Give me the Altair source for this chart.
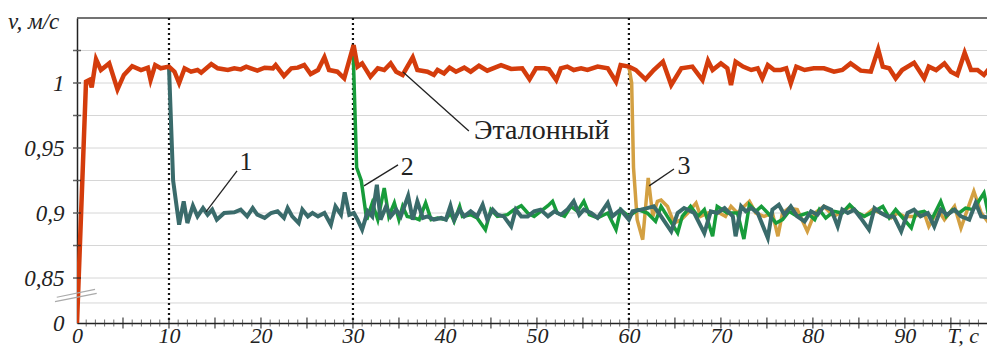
import altair as alt
import pandas as pd

FONT = "'Liberation Serif', 'Times New Roman', Times, 'DejaVu Serif', serif"
W, H = 910, 305
XMAX = 98.93
YMIN, YMAX = 0.8154, 1.05
ZERO_POS = 0.8154   # position on the broken axis where v = 0 is drawn

# ---------------- data ----------------
red_t = [0, 0.98, 1.34, 1.6, 2.07, 2.6, 3.5, 4.4, 5.1, 6.0,
         6.96, 7.7, 8.0, 8.5, 9.1, 10.0, 10.6, 11.1, 11.7, 12.4,
         13.1, 13.5, 14.6, 15.3, 16.4, 17.1, 17.8, 18.4, 18.9, 19.6,
         20.4, 21.3, 21.6, 22.5, 23.3, 24.0, 24.7, 25.4, 26.2, 26.9,
         27.4, 28.3, 29.05, 30.07, 30.5, 31.0, 31.9, 32.7, 33.4, 34.1,
         34.7, 35.4, 36.5, 37.0, 38.1, 38.8, 39.2, 39.9, 40.5, 41.2,
         42.1, 42.8, 43.7, 44.6, 46.1, 47.2, 48.4, 49.2, 49.9, 50.8,
         51.3, 52.1, 52.6, 53.3, 54.0, 54.8, 55.5, 56.6, 57.7, 58.6,
         59.1, 60.0, 60.75, 61.8, 62.7, 63.7, 64.6, 65.7, 66.9, 68.0,
         68.6, 69.1, 70.0, 70.7, 71.1, 71.6, 72.4, 73.3, 74.0, 74.5,
         75.1, 75.8, 76.5, 77.1, 77.6, 78.2, 79.1, 80.1, 81.2, 82.3,
         83.2, 84.1, 85.2, 86.3, 87.1, 87.6, 88.3, 89.0, 89.7, 91.0,
         92.1, 92.6, 93.4, 94.3, 95.0, 95.7, 96.5, 97.2, 97.9, 98.6,
         99.2]
red_v = [0, 1.0010, 1.0023, 0.9967, 1.0182, 1.0100, 1.0151, 0.9951, 1.0062, 1.0130,
         1.0100, 1.0118, 1.0023, 1.0138, 1.0113, 1.0126, 1.0087, 1.0000, 1.0113, 1.0087,
         1.0100, 1.0080, 1.0146, 1.0113, 1.0100, 1.0113, 1.0105, 1.0126, 1.0113, 1.0095,
         1.0118, 1.0113, 1.0138, 1.0054, 1.0113, 1.0118, 1.0138, 1.0069, 1.0100, 1.0198,
         1.0100, 1.0087, 1.0036, 1.0292, 1.0126, 1.0151, 1.0049, 1.0113, 1.0100, 1.0151,
         1.0087, 1.0062, 1.0198, 1.0100, 1.0087, 1.0062, 1.0100, 1.0074, 1.0118, 1.0087,
         1.0118, 1.0087, 1.0133, 1.0095, 1.0138, 1.0108, 1.0113, 1.0028, 1.0113, 1.0113,
         1.0105, 1.0023, 1.0113, 1.0126, 1.0100, 1.0113, 1.0100, 1.0126, 1.0113, 1.0010,
         1.0138, 1.0126, 1.0100, 1.0028, 1.0100, 1.0164, 0.9985, 1.0113, 1.0126, 1.0023,
         1.0172, 1.0100, 1.0151, 1.0113, 0.9985, 1.0164, 1.0126, 1.0100, 1.0113, 1.0036,
         1.0138, 1.0100, 1.0100, 1.0113, 0.9997, 1.0126, 1.0100, 1.0113, 1.0113, 1.0087,
         1.0100, 1.0151, 1.0095, 1.0087, 1.0259, 1.0126, 1.0113, 1.0036, 1.0100, 1.0156,
         1.0036, 1.0126, 1.0100, 1.0151, 1.0087, 1.0062, 1.0233, 1.0100, 1.0100, 1.0062,
         1.0113]

s1_t = [10.0, 10.45, 11.1, 11.6, 12.0, 12.6, 13.1, 13.7, 14.2, 14.7,
        15.2, 16.0, 17.1, 17.8, 18.5, 19.1, 19.6, 20.4, 21.1, 21.8,
        22.5, 22.9, 23.4, 24.1, 24.5, 25.1, 25.6, 26.2, 26.9, 27.6,
        28.1, 28.7, 29.1, 29.6, 30.1, 30.5, 31.0, 31.6, 32.1, 32.6,
        33.0, 33.6, 34.1, 34.7, 35.2, 36.0, 36.5, 37.0, 37.6, 38.1,
        38.8, 39.6, 40.1, 40.6, 41.0, 41.6, 42.1, 42.8, 43.5, 44.1,
        44.6, 45.2, 45.7, 46.4, 47.2, 47.7, 48.3, 49.0, 49.7, 50.4,
        51.2, 51.9, 52.6, 53.3, 54.0, 54.6, 55.1, 55.9, 56.6, 57.7,
        58.2, 59.1, 60.0, 60.4, 61.3, 62.0, 62.7, 63.5, 64.6, 65.3,
        66.0, 67.1, 68.2, 68.9, 69.6, 70.4, 71.3, 71.6, 72.2, 72.7,
        73.3, 74.0, 75.1, 75.6, 76.3, 76.9, 77.6, 78.3, 79.1, 79.8,
        80.5, 81.2, 82.0, 82.7, 83.2, 83.8, 84.5, 85.2, 86.1, 86.7,
        87.4, 88.1, 88.8, 89.6, 90.3, 91.0, 91.7, 92.5, 93.2, 93.9,
        94.6, 95.4, 96.1, 97.0, 97.7, 98.3, 99.4, 99.9]
s1_v = [1.0126, 0.925, 0.891, 0.9090, 0.8923, 0.9056, 0.8974, 0.9038, 0.8987, 0.9026,
        0.8949, 0.9, 0.9005, 0.9026, 0.8974, 0.9038, 0.8987, 0.8962, 0.9, 0.9013,
        0.8962, 0.9038, 0.8974, 0.8923, 0.9026, 0.8974, 0.9, 0.8974, 0.9, 0.891,
        0.9051, 0.8987, 0.9159, 0.8987, 0.9, 0.8949, 0.8872, 0.9013, 0.8974, 0.9218,
        0.8949, 0.9051, 0.8974, 0.9026, 0.8974, 0.9133, 0.8949, 0.9090, 0.8962, 0.8974,
        0.8949, 0.8962, 0.8949, 0.9056, 0.8949, 0.9026, 0.8974, 0.9013, 0.8974, 0.9064,
        0.8949, 0.9026, 0.8987, 0.8974, 0.8897, 0.9026, 0.8974, 0.8974, 0.9013, 0.9026,
        0.8974, 0.9013, 0.8987, 0.9026, 0.9090, 0.8987, 0.9026, 0.9, 0.8962, 0.9077,
        0.8974, 0.9026, 0.8949, 0.9013, 0.9026, 0.9038, 0.9051, 0.8974, 0.8859, 0.9,
        0.9038, 0.9, 0.8846, 0.9013, 0.9, 0.9038, 0.8974, 0.8821, 0.9051, 0.9013,
        0.9038, 0.9, 0.8808, 0.9026, 0.9064, 0.8987, 0.9051, 0.8974, 0.8936, 0.9013,
        0.8987, 0.9051, 0.9026, 0.8897, 0.9026, 0.9, 0.9026, 0.8962, 0.8872, 0.9038,
        0.9, 0.8974, 0.8974, 0.8859, 0.9, 0.9026, 0.8974, 0.9, 0.8897, 0.9026,
        0.8987, 0.9026, 0.8974, 0.8949, 0.9077, 0.8974, 0.8962, 0.895]

s2_t = [30.0, 30.4, 30.9, 31.5, 32.1, 32.7, 33.4, 33.9, 34.5, 35.0,
        35.4, 35.9, 36.7, 37.2, 37.9, 38.5, 39.2, 40.1, 40.6, 41.0,
        41.6, 41.9, 42.8, 43.5, 44.4, 45.0, 45.7, 46.8, 47.5, 48.3,
        49.0, 49.7, 50.4, 51.2, 51.7, 52.2, 53.0, 53.7, 54.4, 55.1,
        55.7, 56.6, 57.7, 58.6, 59.1, 60.0, 61.0, 62.0, 62.9, 63.5,
        64.4, 65.3, 65.8, 66.7, 67.5, 68.2, 69.1, 69.6, 70.7, 71.8,
        72.5, 73.1, 73.8, 74.4, 75.1, 76.0, 76.7, 77.4, 78.3, 79.4,
        80.2, 80.7, 81.4, 82.3, 83.2, 84.0, 84.9, 85.6, 86.7, 87.6,
        88.3, 89.0, 90.7, 91.2, 92.1, 93.0, 93.9, 94.5, 95.2, 95.9,
        96.6, 97.4, 97.9, 98.6, 99.2, 99.8]
s2_v = [1.0292, 0.935, 0.925, 0.8949, 0.9077, 0.8949, 0.9192, 0.8974, 0.9077, 0.8949,
        0.9051, 0.8974, 0.8962, 0.8949, 0.9077, 0.8949, 0.8962, 0.8949, 0.9, 0.8936,
        0.9051, 0.8974, 0.8987, 0.8962, 0.8872, 0.9026, 0.8974, 0.8987, 0.9026, 0.9056,
        0.9, 0.8974, 0.9013, 0.9056, 0.9090, 0.9, 0.8974, 0.9051, 0.9013, 0.9090,
        0.8987, 0.8962, 0.9, 0.8872, 0.9026, 0.8974, 0.9026, 0.9, 0.8936, 0.9051,
        0.8949, 0.8846, 0.8974, 0.9051, 0.8974, 0.9026, 0.8821, 0.9051, 0.9, 0.9,
        0.8800, 0.9064, 0.9013, 0.9051, 0.9, 0.8923, 0.8949, 0.9013, 0.8974, 0.9,
        0.8949, 0.9026, 0.8962, 0.9013, 0.9, 0.9064, 0.9, 0.8974, 0.9013, 0.9051,
        0.8962, 0.9026, 0.8885, 0.9, 0.9013, 0.8962, 0.9090, 0.8974, 0.9026, 0.9,
        0.9038, 0.9026, 0.9077, 0.9154, 0.8949, 0.898]

s3_t = [60.0, 60.3, 60.5, 60.9, 61.5, 62.1, 62.6, 63.1, 63.5, 64.2,
        64.9, 65.7, 66.4, 67.3, 67.8, 68.6, 69.5, 70.5, 71.1, 71.8,
        73.1, 73.8, 74.7, 75.6, 76.2, 76.7, 77.4, 78.3, 79.4, 80.2,
        81.2, 82.3, 83.2, 84.1, 84.9, 85.6, 86.5, 87.4, 88.5, 89.2,
        89.9, 91.0, 92.1, 92.6, 93.6, 94.3, 95.4, 96.1, 96.8, 97.5,
        98.3, 99.4, 99.9]
s3_v = [1.0126, 1.0, 0.935, 0.8949, 0.8795, 0.927, 0.8974, 0.9090, 0.910, 0.9051,
        0.8923, 0.8949, 0.9, 0.9077, 0.8974, 0.9, 0.9013, 0.8974, 0.9051, 0.9,
        0.9090, 0.9, 0.8974, 0.9, 0.8821, 0.9, 0.9038, 0.9026, 0.8859, 0.9,
        0.9051, 0.8974, 0.9013, 0.9051, 0.9, 0.8974, 0.9026, 0.9, 0.8962, 0.9,
        0.8974, 0.8974, 0.9, 0.8897, 0.9026, 0.8949, 0.9051, 0.8885, 0.9026, 0.9167,
        0.9, 0.8897, 0.894]

switch_t = [10, 30, 60]

grid_v = [0.8308, 0.85, 0.875, 0.9, 0.925, 0.95, 0.975, 1.0, 1.025]
ytick_v = [0.85, 0.875, 0.9, 0.925, 0.95, 0.975, 1.0, 1.025]
ylab_v = [ZERO_POS, 0.85, 0.9, 0.95, 1.0]
ylab_s = ["0", "0,85", "0,9", "0,95", "1"]
xlab_v = [0, 10, 20, 30, 40, 50, 60, 70, 80, 90, 96.3]
xlab_s = ["0", "10", "20", "30", "40", "50", "60", "70", "80", "90", "T, c"]
xmajor_t = [5, 10, 15, 20, 25, 30, 35, 40, 45, 50, 55, 60, 65, 70, 75, 80, 85, 90, 95]
xminor_t = [i for i in range(1, 99) if i % 5 != 0]

num_t = [18.37, 35.9, 66.0]
num_v = [0.9393, 0.9355, 0.9362]
num_s = ["1", "2", "3"]
lead_t1 = [14.02, 31.2, 62.2, 35.44]
lead_v1 = [0.9009, 0.9209, 0.9209, 1.0085]
lead_t2 = [17.4, 34.9, 64.9, 42.6]
lead_v2 = [0.9324, 0.937, 0.9339, 0.9631]
ref_label = ["Эталонный"]
ref_label_t = [43.16]
ref_label_v = [0.9631]

brk_t1 = [-2.39, -2.2]
brk_v1 = [0.8318, 0.8352]
brk_t2 = [2.14, 1.96]
brk_v2 = [0.8382, 0.8412]

# ---------------- chart ----------------
def label_expr(vals, texts):
    expr = "''"
    for v, s in reversed(list(zip(vals, texts))):
        expr = f"(abs(datum.value - {v}) < 1e-6 ? '{s}' : {expr})"
    return expr

xscale = alt.Scale(domain=[0, XMAX], nice=False, zero=False)
yscale = alt.Scale(domain=[YMIN, YMAX], nice=False, zero=False)

xaxis = alt.Axis(values=xlab_v, labelExpr=label_expr(xlab_v, xlab_s),
                 grid=False, ticks=False, domain=True, domainColor="#222", domainWidth=1.5,
                 labelFont=FONT, labelFontStyle="italic", labelFontSize=22, labelColor="#222",
                 labelPadding=2, labelOverlap=False, labelFlush=False, labelBound=False, title=None)
yaxis = alt.Axis(values=ylab_v, labelExpr=label_expr(ylab_v, ylab_s),
                 grid=False, ticks=False, domain=True, domainColor="#222", domainWidth=1.5,
                 labelFont=FONT, labelFontStyle="italic", labelFontSize=23, labelColor="#222",
                 labelPadding=13, labelOverlap=False, labelFlush=False, labelBound=False, title=None)

def X(f):
    return alt.X(f"{f}:Q", scale=xscale, axis=xaxis)

def Y(f):
    return alt.Y(f"{f}:Q", scale=yscale, axis=yaxis)

grid = alt.Chart(pd.DataFrame({"g": grid_v})).mark_rule(color="#d6d6d6", strokeWidth=1).encode(y=Y("g"))

border = alt.Chart(pd.DataFrame({"a": [0]})).mark_rule(color="#444", strokeWidth=1.5).encode(
    x=alt.value(0), x2=alt.value(W), y=alt.value(0))

switch = alt.Chart(pd.DataFrame({"t": switch_t})).mark_rule(
    color="#111", strokeWidth=2.2, strokeDash=[2, 3]).encode(x=X("t"))

def line(t, v, color, width):
    return alt.Chart(pd.DataFrame({"t": t, "v": v})).mark_line(
        color=color, strokeWidth=width, clip=True).transform_calculate(
        yd=f"datum.v < 0.5 ? {ZERO_POS} : datum.v").encode(x=X("t"), y=Y("yd"))

l3 = line(s3_t, s3_v, "#D3A042", 3.5)
l2 = line(s2_t, s2_v, "#179C3A", 3.5)
l1 = line(s1_t, s1_v, "#3A6B6B", 4)
lr = line(red_t, red_v, "#D43C0C", 4.5)

leaders = alt.Chart(pd.DataFrame({"t1": lead_t1, "v1": lead_v1, "t2": lead_t2, "v2": lead_v2})).mark_rule(
    color="#222", strokeWidth=1.3).encode(x=X("t1"), y=Y("v1"), x2="t2", y2="v2")

nums = alt.Chart(pd.DataFrame({"t": num_t, "v": num_v, "s": num_s})).mark_text(
    font=FONT, fontSize=26, color="#222", align="center", baseline="middle").encode(
    x=X("t"), y=Y("v"), text="s:N")

reflab = alt.Chart(pd.DataFrame({"t": ref_label_t, "v": ref_label_v, "s": ref_label})).mark_text(
    font=FONT, fontSize=28, color="#222", align="left", baseline="middle").encode(
    x=X("t"), y=Y("v"), text="s:N")

brk = alt.Chart(pd.DataFrame({"t1": brk_t1, "v1": brk_v1, "t2": brk_t2, "v2": brk_v2})).mark_rule(
    color="#aaaaaa", strokeWidth=1.2).encode(x=X("t1"), y=Y("v1"), x2="t2", y2="v2")

xmaj = alt.Chart(pd.DataFrame({"t": xmajor_t})).mark_tick(
    orient="vertical", size=11, thickness=1.5, color="#222").encode(x=X("t"), y=alt.value(H))
xmin = alt.Chart(pd.DataFrame({"t": xminor_t})).mark_tick(
    orient="vertical", size=7, thickness=1, color="#333").encode(x=X("t"), y=alt.value(H))
ytk = alt.Chart(pd.DataFrame({"v": ytick_v})).mark_tick(
    orient="horizontal", size=8, thickness=1.5, color="#222").encode(y=Y("v"), x=alt.value(0))

ytitle = alt.Chart(pd.DataFrame({"s": ["v, м/с"]})).mark_text(
    font=FONT, fontStyle="italic", fontSize=23, color="#222", align="left", baseline="middle").encode(
    x=alt.value(-69), y=alt.value(4), text="s:N")

chart = alt.layer(grid, border, switch, l3, l2, l1, lr, leaders, nums, reflab, brk, xmaj, xmin, ytk, ytitle).properties(
    width=W, height=H,
    autosize=alt.AutoSizeParams(type="none"),
    padding={"left": 69, "top": 10, "right": 0, "bottom": 29},
    background="white",
).configure_view(stroke=None)

chart.save("out.html", embed_options={"renderer": "svg", "actions": False})
